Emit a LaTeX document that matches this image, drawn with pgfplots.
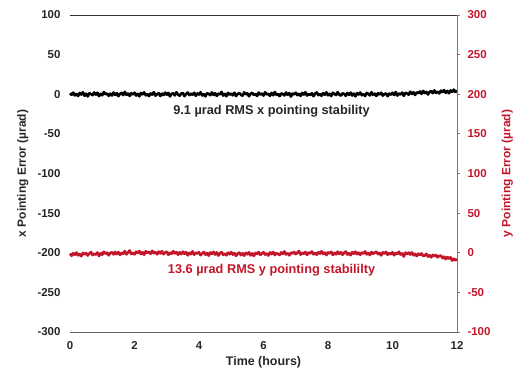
\documentclass[border=0pt]{standalone}
\usepackage{fontspec}
\setmainfont{Liberation Sans}
\usepackage{pgfplots}
\pgfplotsset{compat=1.18}
\usepackage{pgfplotstable}
\definecolor{myred}{RGB}{196,22,42}
\definecolor{spinered}{RGB}{214,80,92}
\definecolor{botgray}{RGB}{100,100,100}

\pgfplotstableread{
t x y
0.00 1.2 -1.1
0.05 -0.8 -3.8
0.10 2.1 -0.5
0.15 -1.5 -2.6
0.20 0.3 0.2
0.25 -2.2 -3.3
0.30 1.7 -1.6
0.35 -0.4 -4.4
0.40 2.6 -0.3
0.45 -1.9 -2.2
0.50 0.8 -0.4
0.55 -2.7 -3.5
0.60 1.4 -0.9
0.65 0.2 0.8
0.70 -1.1 -2.9
0.75 2.3 -1.3
0.80 -0.6 -2.4
0.85 1.9 0.3
0.90 -2.4 -4.1
0.95 0.5 -0.5
1.00 -1.3 -2.5
1.05 2.8 1.4
1.10 -0.2 -1.3
1.15 1.1 0.2
1.20 -2.0 -3.2
1.25 0.7 -0.3
1.30 -1.6 0.6
1.35 2.2 -2.1
1.40 -0.9 1.0
1.45 1.5 -1.7
1.50 -2.5 0.8
1.55 0.4 -2.8
1.60 1.8 0.0
1.65 -1.2 -1.3
1.70 3.1 2.1
1.75 -0.7 -2.1
1.80 0.9 0.4
1.85 -2.1 2.9
1.90 1.3 -1.7
1.95 -0.3 -0.2
2.00 2.0 -2.1
2.05 -1.7 1.4
2.10 0.6 -0.4
2.15 -2.6 2.2
2.20 1.6 -1.7
2.25 -0.1 0.6
2.30 2.4 -2.5
2.35 -1.4 1.9
2.40 0.2 -0.1
2.45 -2.3 1.1
2.50 1.0 -1.3
2.55 -0.5 2.5
2.60 2.7 -0.6
2.65 -1.8 0.8
2.70 0.1 -2.0
2.75 1.4 1.5
2.80 -2.2 -0.9
2.85 0.8 2.1
2.90 -1.0 -1.8
2.95 2.1 0.4
3.00 -0.6 1.4
3.05 1.7 -2.7
3.10 -2.8 0.0
3.15 0.5 -1.3
3.20 1.2 2.0
3.25 -1.5 -0.8
3.30 2.5 0.9
3.35 -0.3 -2.5
3.40 -1.9 0.6
3.45 0.9 -1.7
3.50 1.6 1.4
3.55 -2.4 -1.3
3.60 0.3 0.8
3.65 2.2 -3.2
3.70 -1.1 -0.1
3.75 0.7 -1.8
3.80 -0.8 1.8
3.85 1.9 -2.5
3.90 -2.0 0.2
3.95 1.1 -0.9
4.00 -0.4 0.6
4.05 2.6 -3.1
4.10 -1.6 -0.8
4.15 0.2 0.9
4.20 -2.7 -2.5
4.25 1.3 -0.3
4.30 0.6 -3.7
4.35 -1.2 0.3
4.40 2.3 -1.4
4.45 -0.9 1.2
4.50 1.4 -2.3
4.55 -2.1 0.5
4.60 0.8 -3.6
4.65 -0.2 -0.7
4.70 2.9 0.8
4.75 -1.7 -2.7
4.80 0.4 -1.0
4.85 -2.5 -3.2
4.90 1.8 0.2
4.95 -0.6 -1.9
5.00 0.9 0.8
5.05 -1.4 -2.4
5.10 2.0 -0.4
5.15 -2.3 -3.9
5.20 0.5 -1.1
5.25 1.5 0.2
5.30 -0.7 -3.1
5.35 -1.8 -0.6
5.40 2.4 -3.7
5.45 -0.1 -0.1
5.50 1.2 -2.0
5.55 -2.6 0.5
5.60 0.7 -3.3
5.65 1.8 -0.8
5.70 -1.0 -4.1
5.75 0.3 -0.3
5.80 -2.2 -1.7
5.85 2.1 0.9
5.90 -0.5 -2.8
5.95 1.0 -1.0
6.00 -1.7 0.7
6.05 2.5 -2.3
6.10 -0.3 -0.9
6.15 0.6 -3.5
6.20 -2.0 0.4
6.25 1.6 -1.8
6.30 -1.3 1.0
6.35 2.8 -2.9
6.40 -0.8 -0.4
6.45 0.4 -1.5
6.50 -2.4 -2.8
6.55 1.1 0.5
6.60 0.2 -1.5
6.65 -1.5 1.7
6.70 2.2 -2.2
6.75 -0.6 -0.6
6.80 1.4 -3.2
6.85 -2.9 0.2
6.90 0.9 -0.9
6.95 -0.2 1.0
7.00 2.0 -1.7
7.05 -1.2 0.1
7.10 0.5 2.2
7.15 -2.1 -2.4
7.20 1.7 -0.1
7.25 -0.4 -1.3
7.30 2.6 1.0
7.35 -1.6 -2.8
7.40 0.1 0.4
7.45 -0.9 -0.9
7.50 1.3 1.6
7.55 -2.5 -2.0
7.60 0.8 -0.2
7.65 2.3 -2.5
7.70 -1.1 0.7
7.75 0.2 -1.1
7.80 -1.9 1.9
7.85 1.5 -1.6
7.90 -0.7 0.2
7.95 2.4 -3.0
8.00 -1.4 0.4
8.05 0.6 -0.9
8.10 -2.3 1.2
8.15 1.9 -2.8
8.20 0.3 -0.1
8.25 -1.0 -2.0
8.30 2.7 1.4
8.35 -0.5 -1.4
8.40 -1.8 0.7
8.45 1.2 -2.5
8.50 0.4 -0.1
8.55 -2.0 1.6
8.60 1.6 -2.3
8.65 -0.8 -0.6
8.70 2.1 -3.1
8.75 -1.6 0.8
8.80 0.9 -1.2
8.85 -2.6 1.4
8.90 1.4 -1.9
8.95 -0.3 0.1
9.00 2.2 -2.6
9.05 -1.3 0.3
9.10 0.1 -1.0
9.15 -2.2 1.7
9.20 1.8 -2.1
9.25 0.6 -0.4
9.30 -1.5 -2.9
9.35 2.5 0.9
9.40 -0.9 -1.4
9.45 0.7 0.1
9.50 -2.1 1.4
9.55 1.3 -1.8
9.60 -0.4 -0.3
9.65 2.0 -3.3
9.70 -1.7 0.6
9.75 0.2 -1.2
9.80 1.1 1.1
9.85 -2.4 -2.5
9.90 0.8 -0.5
9.95 -0.6 -1.9
10.00 1.9 0.6
10.05 -1.0 -3.2
10.10 2.8 -0.3
10.15 -1.7 -1.5
10.20 0.9 1.3
10.25 -0.3 -2.3
10.30 2.1 -0.8
10.35 -2.0 -4.8
10.40 1.8 0.2
10.45 1.2 -1.7
10.50 -0.6 0.2
10.55 3.3 -2.3
10.60 0.5 0.5
10.65 2.5 -3.3
10.70 -0.9 -1.4
10.75 2.4 -4.2
10.80 1.4 -1.2
10.85 3.5 -2.7
10.90 0.4 -0.9
10.95 4.3 -4.0
11.00 1.5 -3.6
11.05 3.1 -1.4
11.10 -0.3 -4.9
11.15 2.9 -3.2
11.20 4.1 -5.8
11.25 1.3 -2.7
11.30 4.9 -4.4
11.35 1.7 -2.8
11.40 3.2 -5.7
11.45 1.0 -4.1
11.50 4.5 -3.5
11.55 2.8 -6.7
11.60 5.3 -5.0
11.65 1.7 -8.1
11.70 4.2 -5.5
11.75 1.3 -7.4
11.80 4.8 -5.7
11.85 2.9 -9.8
11.90 5.9 -7.6
11.95 2.9 -9.6
12.00 4.6 -8.0
}\data

\begin{document}
\begin{tikzpicture}
\useasboundingbox (0,0) rectangle (521bp,373bp);
\begin{axis}[
  at={(70bp,41bp)}, anchor=south west,
  scale only axis, width=387bp, height=317bp,
  xmin=0, xmax=12, ymin=-300, ymax=100,
  xtick={0,2,...,12}, ytick={-300,-250,...,100},
  separate axis lines,
  axis x line*=bottom, axis y line*=left,
  x axis line style={draw=botgray, line width=0.9pt, -},
  y axis line style={draw=none},
  major tick length=0pt,
  tick label style={font=\bfseries\fontsize{11.5}{13}\selectfont, text=black!85},
  /pgf/number format/assume math mode=true,
  xticklabel style={yshift=-6bp},
  yticklabel style={xshift=-6bp},
  xlabel={Time (hours)},
  xlabel style={font=\bfseries\fontsize{12.5}{14}\selectfont, text=black!85, at={(axis description cs:0.5,-0.095)}, anchor=center},
  ylabel={x Pointing Error (\textmu rad)},
  ylabel style={font=\bfseries\fontsize{12}{14}\selectfont, text=black!85, at={(axis description cs:-0.122,0.5)}, anchor=center, rotate=0},
  clip=false,
]
\draw[black!80, line width=0.9pt] (rel axis cs:0,1) -- (rel axis cs:1,1);
\addplot[black, line width=2.6pt, line join=round] table[x=t, y=x] {\data};
\node[font=\bfseries\fontsize{12.8}{14}\selectfont, text=black!85] at (axis cs:6.25,-21) {9.1 \textmu rad RMS x pointing stability};
\end{axis}
\begin{axis}[
  at={(70bp,41bp)}, anchor=south west,
  scale only axis, width=387bp, height=317bp,
  xmin=0, xmax=12, ymin=-100, ymax=300,
  ytick={-100,-50,...,300}, xtick=\empty,
  axis x line=none, axis y line*=right,
  y axis line style={draw=spinered, line width=0.9pt, -},
  tick align=outside, major tick length=3bp,
  ytick style={draw=spinered, line width=0.8pt},
  yticklabel style={font=\bfseries\fontsize{11.5}{13}\selectfont, text=myred, xshift=4bp},
  /pgf/number format/assume math mode=true,
  ylabel={y Pointing Error (\textmu rad)},
  ylabel style={font=\bfseries\fontsize{12}{14}\selectfont, text=myred, at={(axis description cs:1.13,0.5)}, anchor=center},
  clip=false,
]
\addplot[myred, line width=2.6pt, line join=round] table[x=t, y=y] {\data};
\node[font=\bfseries\fontsize{12.8}{14}\selectfont, text=myred] at (axis cs:6.25,-22) {13.6 \textmu rad RMS y pointing stabililty};
\end{axis}
\end{tikzpicture}
\end{document}
